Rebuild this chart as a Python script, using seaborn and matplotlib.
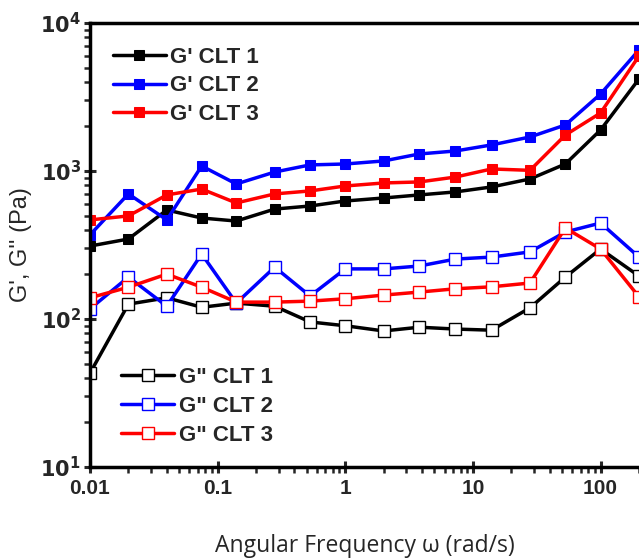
import numpy as np
import pandas as pd
import matplotlib
matplotlib.use("Agg")
import matplotlib.pyplot as plt
import matplotlib.ticker as mticker
import seaborn as sns

freq = [0.01, 0.02, 0.04, 0.075, 0.14, 0.28, 0.53, 1.0, 2.0, 3.8, 7.3, 14.0, 28.0, 53.0, 100.0, 200.0]

g1_clt1 = [311, 347, 545, 481, 459, 553, 580, 627, 657, 689, 722, 780, 883, 1115, 1892, 4186]
g1_clt2 = [370, 700, 467, 1081, 817, 984, 1099, 1115, 1169, 1303, 1365, 1500, 1697, 2046, 3311, 6575]
g1_clt3 = [467, 497, 689, 755, 608, 700, 733, 792, 830, 843, 910, 1032, 1010, 1750, 2466, 5984]

g2_clt1 = [43, 126, 139, 120, 128, 122, 95.5, 90, 83, 88, 85.5, 84, 119, 192, 297, 195]
g2_clt2 = [117, 192, 122, 275, 128, 224, 143, 218, 218, 228, 254, 262, 284, 387, 445, 262]
g2_clt3 = [139, 164, 201, 164, 130, 130, 132, 137, 145, 152, 160, 165, 175, 412, 297, 141]

storage_labels = ["G' CLT 1", "G' CLT 2", "G' CLT 3"]
loss_labels = ['G" CLT 1', 'G" CLT 2', 'G" CLT 3']
colors = ["#000000", "#0000FF", "#FF0000"]

sns.set_style("ticks")
plt.rcParams['font.family'] = ['Liberation Sans', 'DejaVu Sans']

fig = plt.figure(figsize=(6.39, 5.59), dpi=100)
ax = fig.add_axes([0.1408, 0.1646, 0.8592, 0.7943])

storage = [g1_clt1, g1_clt2, g1_clt3]
loss = [g2_clt1, g2_clt2, g2_clt3]

h1 = []
for vals, lab, c in zip(storage, storage_labels, colors):
    df = pd.DataFrame({"w": freq, "G": vals})
    sns.lineplot(data=df, x="w", y="G", ax=ax, color=c, lw=2.5, marker="s",
                 markersize=7.5, markerfacecolor=c, markeredgecolor=c,
                 label=lab, legend=False)
    h1.append(ax.lines[-1])

h2 = []
for vals, lab, c in zip(loss, loss_labels, colors):
    df = pd.DataFrame({"w": freq, "G": vals})
    sns.lineplot(data=df, x="w", y="G", ax=ax, color=c, lw=2.5, marker="s",
                 markersize=8, markerfacecolor="white", markeredgecolor=c,
                 markeredgewidth=1.0, label=lab, legend=False)
    h2.append(ax.lines[-1])

ax.set_xscale("log")
ax.set_yscale("log")
ax.set_xlim(0.01, 200)
ax.set_ylim(10, 10000)

ax.xaxis.set_minor_locator(mticker.LogLocator(base=10, subs=np.arange(2, 10), numticks=10))
ax.yaxis.set_minor_locator(mticker.LogLocator(base=10, subs=np.arange(2, 10), numticks=10))
ax.xaxis.set_minor_formatter(mticker.NullFormatter())
ax.yaxis.set_minor_formatter(mticker.NullFormatter())

xt = [0.01, 0.1, 1, 10, 100]
ax.set_xticks(xt)
ax.set_xticklabels(["0.01", "0.1", "1", "10", "100"], fontsize=15, fontweight="bold")
yt = [10, 100, 1000, 10000]
ax.set_yticks(yt)
ax.set_yticklabels([r"$\mathbf{10^{%d}}$" % int(np.log10(v)) for v in yt], fontsize=15)

ax.tick_params(which="major", direction="inout", length=9, width=2.2, pad=4)
ax.tick_params(which="minor", direction="out", length=4, width=1.8)
ax.tick_params(axis="y", which="major", pad=2)

for side in ["left", "bottom", "top"]:
    ax.spines[side].set_linewidth(2.5)
    ax.spines[side].set_color("black")
ax.spines["right"].set_visible(False)

ax.set_xlabel("Angular Frequency ω (rad/s)", fontsize=16.5, family=["Open Sans", "DejaVu Sans"], labelpad=26)
ax.set_ylabel("G', G'' (Pa)", fontsize=17, labelpad=6)

leg1 = ax.legend(handles=h1, labels=storage_labels, loc="upper left",
                 bbox_to_anchor=(0.005, 0.992), frameon=False,
                 prop={"weight": "bold", "size": 16}, handlelength=2.4,
                 handletextpad=0.2, labelspacing=0.35)
ax.add_artist(leg1)
ax.legend(handles=h2, labels=loss_labels, loc="lower left",
          bbox_to_anchor=(0.02, 0.003), frameon=False,
          prop={"weight": "bold", "size": 16}, handlelength=2.4,
          handletextpad=0.2, labelspacing=0.35)

fig.savefig("out.png", dpi=100)
